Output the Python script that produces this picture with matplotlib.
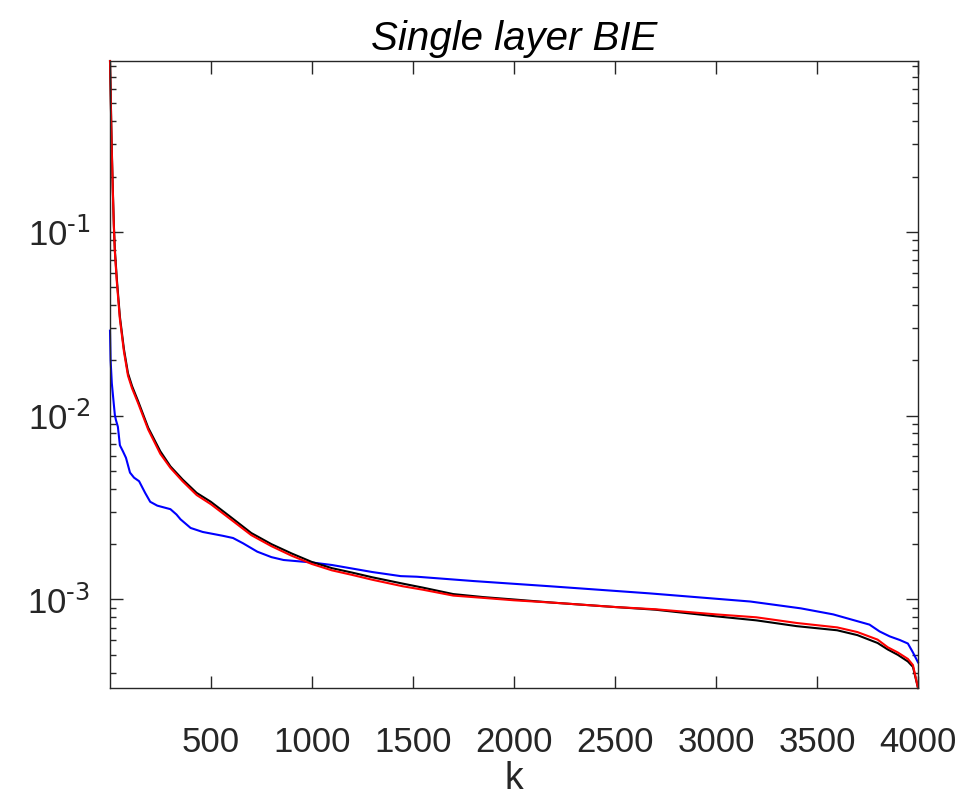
import matplotlib
matplotlib.use("Agg")
import matplotlib.pyplot as plt
from matplotlib.ticker import LogLocator, NullFormatter, FuncFormatter
import numpy as np

plt.rcParams["font.family"] = ["Liberation Sans", "DejaVu Sans"]
plt.rcParams["mathtext.default"] = "regular"
plt.rcParams["axes.unicode_minus"] = False

# values
k_ref = [1, 2, 4, 7, 10, 15, 20, 25, 35, 50, 70, 90, 110, 140, 190, 250, 300,
         360, 430, 500, 600, 700, 800, 900, 1000, 1100, 1200, 1300, 1450, 1550,
         1700, 1850, 2000, 2200, 2500, 2700, 3000, 3200, 3400, 3600, 3700, 3800,
         3850, 3900, 3950, 3975, 4000]
black_vals = [0.85, 0.75, 0.6, 0.4, 0.28, 0.17, 0.11, 0.08, 0.055, 0.0345,
              0.023, 0.017, 0.0145, 0.012, 0.0086, 0.0064, 0.0053, 0.0045, 0.0038,
              0.0034, 0.0028, 0.0023, 0.0020, 0.00178, 0.0016, 0.00148, 0.0014,
              0.00132, 0.00122, 0.00116, 0.00107, 0.00103, 0.001, 0.00096, 0.00091,
              0.00088, 0.00081, 0.00077, 0.000716, 0.00068, 0.00064, 0.00058,
              0.000535, 0.0005, 0.00046, 0.00043, 0.00033]
red_vals = [0.85, 0.74, 0.59, 0.39, 0.27, 0.165, 0.107, 0.078, 0.053, 0.0335,
            0.0223, 0.0165, 0.0141, 0.0117, 0.0084, 0.0062, 0.0052, 0.0044, 0.0037,
            0.0033, 0.00272, 0.00224, 0.00195, 0.00173, 0.00156, 0.00144, 0.00136,
            0.00128, 0.00118, 0.00113, 0.00105, 0.00102, 0.00099, 0.00096, 0.00091,
            0.000885, 0.00083, 0.0008, 0.000745, 0.000705, 0.000665, 0.000605,
            0.00055, 0.000515, 0.000475, 0.00044, 0.00033]

k_blue = [1, 4, 10, 20, 25, 30, 40, 50, 65, 80, 100, 120, 145, 175, 200, 235, 300,
          330, 350, 400, 460, 560, 610, 660, 730, 800, 860, 1000, 1100, 1190, 1300,
          1440, 1520, 1800, 2180, 2670, 3170, 3420, 3580, 3760, 3810, 3860, 3910,
          3950, 3975, 4000]
blue_vals = [0.029, 0.02, 0.015, 0.0115, 0.0101, 0.0095, 0.0087, 0.0069, 0.0064,
             0.0059, 0.0049, 0.0046, 0.0044, 0.0038, 0.0034, 0.00324, 0.0031, 0.0029,
             0.00273, 0.00245, 0.00233, 0.00222, 0.00216, 0.00202, 0.00182, 0.0017,
             0.00164, 0.00159, 0.00154, 0.00148, 0.00141, 0.00134, 0.00133, 0.00126,
             0.00118, 0.00108, 0.000975, 0.000895, 0.00083, 0.00073, 0.00067,
             0.00063, 0.000602, 0.000576, 0.000515, 0.000455]

x_ticks = [500, 1000, 1500, 2000, 2500, 3000, 3500, 4000]

fig = plt.figure(figsize=(9.76, 8.01), dpi=100)
ax = fig.add_axes([110 / 976, 1 - 688 / 801, 808 / 976, 627 / 801])

ax.plot(k_blue, blue_vals, color="blue", lw=1.5, clip_on=False)
ax.plot(k_ref, black_vals, color="black", lw=1.5, clip_on=False)
ax.plot(k_ref, red_vals, color="red", lw=1.5, clip_on=False)

ax.set_yscale("log")
ax.set_xlim(1, 4000)
ax.set_ylim(3.3e-4, 0.85)
ax.set_xticks(x_ticks)
ax.yaxis.set_major_locator(LogLocator(base=10))
ax.yaxis.set_major_formatter(
    FuncFormatter(lambda v, p: "$10^{\\text{-%d}}$" % round(-np.log10(v))))
ax.yaxis.set_minor_locator(LogLocator(base=10, subs=range(2, 10)))
ax.yaxis.set_minor_formatter(NullFormatter())

ax.tick_params(which="both", direction="in", top=True, right=True,
               colors="#262626", labelcolor="#262626", labelsize=25, width=1)
ax.tick_params(which="major", length=9)
ax.tick_params(which="minor", length=4.5)
ax.tick_params(axis="x", pad=27)
ax.tick_params(axis="y", pad=14)
for s in ax.spines.values():
    s.set_color("#262626")
    s.set_linewidth(1)

ax.set_xlabel("k", fontsize=27, color="#262626", labelpad=2)
ax.set_title("Single layer BIE", fontsize=29, style="italic", pad=8)

fig.savefig("out.png", dpi=100)
